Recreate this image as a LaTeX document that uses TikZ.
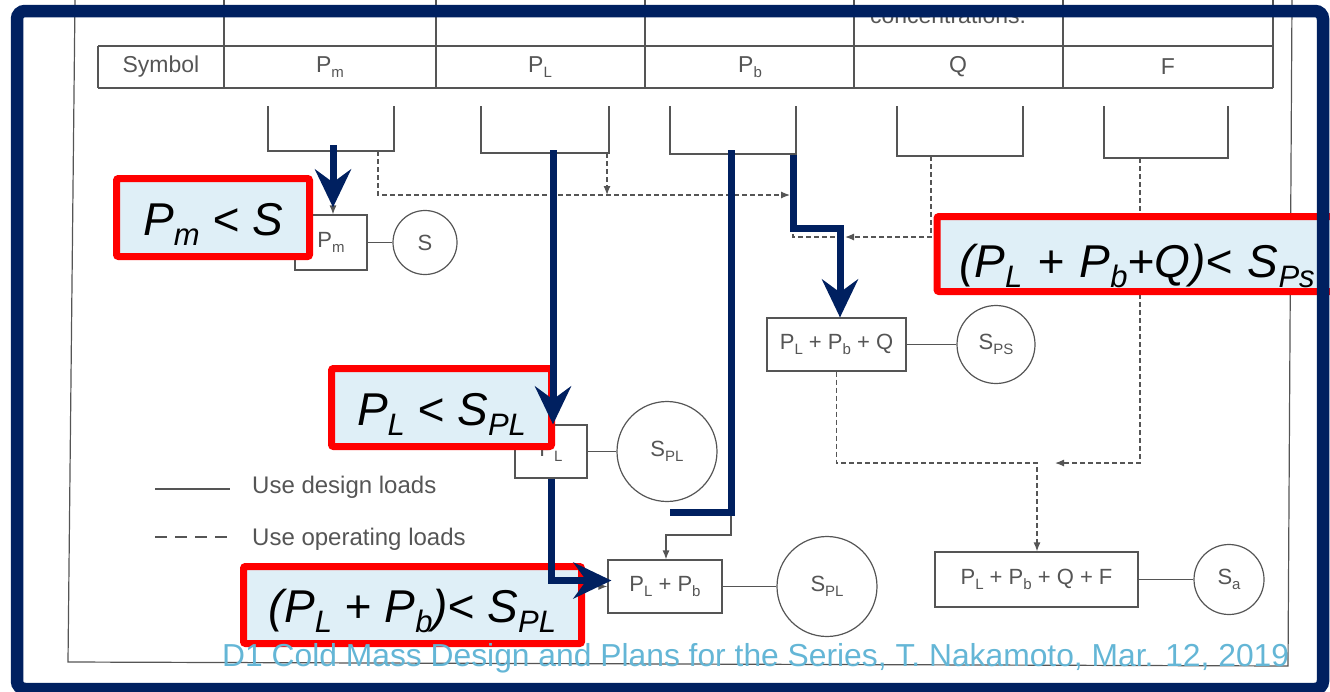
\documentclass[tikz,border=0pt]{standalone}
\usepackage{fontspec}
\setmainfont{Liberation Sans}
\usepackage{tikz}
\usetikzlibrary{arrows.meta,positioning}
\definecolor{framenavy}{HTML}{002060}
\definecolor{alertred}{HTML}{FF0000}
\definecolor{paleblue}{HTML}{DFEFF7}
\definecolor{scangray}{HTML}{555555}
\definecolor{footblue}{HTML}{64B6D6}
\newcommand{\ssub}[1]{\raisebox{-0.2em}{\fontsize{15}{15}\selectfont #1}}
\newcommand{\bsub}[1]{\raisebox{-0.22em}{\fontsize{31}{31}\selectfont #1}}

\begin{document}
\begin{tikzpicture}[x=1pt,y=-1pt,
    scanline/.style={scangray,line width=1.2pt},
    scandash/.style={scangray,line width=1.2pt,dash pattern=on 5pt off 3pt},
    scantip/.style={-{Latex[length=9pt,width=7pt]}},
    scantext/.style={scangray,font=\fontsize{23}{27}\selectfont,inner sep=0pt},
    loadbox/.style={draw,scangray,line width=1.2pt,font=\fontsize{22}{26}\selectfont,inner sep=0pt},
    limitcirc/.style={circle,draw,scangray,line width=1.2pt,font=\fontsize{22}{26}\selectfont,inner sep=0pt},
    checkbox/.style={draw=alertred,fill=paleblue,text=black,line width=7pt,rounded corners=2pt,inner sep=0pt,
      text height=35pt,text depth=0pt,font=\fontsize{46}{50}\selectfont\itshape},
    navyarrow/.style={framenavy,line width=7pt,-{Stealth[length=38pt,width=36pt,inset=13pt]}},
    navyline/.style={framenavy,line width=7pt}]
  \useasboundingbox (0,0) rectangle (1330,691);
  \clip (0,0) rectangle (1330,691);

  % scanned table and page edges
  \draw[scanline] (98,46) -- (1273,46) (98,88) -- (1273,88) (98,46) -- (98,88);
  \foreach \cx in {224,436,645,854,1063,1273}
    \draw[scanline] (\cx,0) -- (\cx,88);
  \draw[scanline] (75,0) -- (68,662) -- (1288,666) -- (1292,0);
  \node[scantext,anchor=base] (concnote) at (948,23) {concentrations.};
  \node[scantext] (symhead) at (161,67) {Symbol};
  \node[scantext] (sympm) at (330,67) {P\ssub{m}};
  \node[scantext] (sympl) at (540,67) {P\ssub{L}};
  \node[scantext] (sympb) at (750,67) {P\ssub{b}};
  \node[scantext] (symq) at (958,67) {Q};
  \node[scantext] (symf) at (1168,67) {F};

  \foreach \l/\r/\b in {268/394/151,481/609/153,670/796/154,897/1023/156,1104/1228/158}
    \draw[scanline] (\l,106) |- (\r,\b) -- (\r,106);

  \coordinate (pmtap) at (333,151);
  \coordinate (pmdash) at (378,151);
  \coordinate (pltap) at (553,153);
  \coordinate (pldash) at (607,153);
  \coordinate (pbtap) at (731,154);
  \coordinate (pbdash) at (793,154);
  \coordinate (qdash) at (931,156);
  \coordinate (fdash) at (1140,158);
  \coordinate (opjoin) at (793,195);
  \coordinate (qjoin) at (840,237);
  \coordinate (fjoin) at (1037,463);
  \coordinate (pbkink) at (666,535);

  % load combinations and allowables
  \node[loadbox,minimum width=72,minimum height=55] (pmbox) at (331,242.5) {P\ssub{m}};
  \node[limitcirc,minimum size=64] (scirc) at (425,242.5) {S};
  \node[loadbox,minimum width=72,minimum height=53] (plbox) at (551,451.5) {P\ssub{L}};
  \node[limitcirc,minimum size=100] (splcirc) at (667,451.5) {S\ssub{PL}};
  \node[loadbox,minimum width=114,minimum height=53] (plpbbox) at (665,586.5) {P\ssub{L} + P\ssub{b}};
  \node[limitcirc,minimum size=100] (splcirctwo) at (827,586.5) {S\ssub{PL}};
  \node[loadbox,minimum width=139,minimum height=53] (plpbqbox) at (836.5,344.5) {P\ssub{L} + P\ssub{b} + Q};
  \node[limitcirc,minimum size=78] (spscirc) at (996,344.5) {S\ssub{PS}};
  \node[loadbox,minimum width=203,minimum height=55] (allbox) at (1036.5,579.5) {P\ssub{L} + P\ssub{b} + Q + F};
  \node[limitcirc,minimum size=70] (sacirc) at (1229,579.5) {S\ssub{a}};

  \draw[scanline] (pmbox) -- (scirc);
  \draw[scanline] (plbox) -- (splcirc);
  \draw[scanline] (plpbbox) -- (splcirctwo);
  \draw[scanline] (plpbqbox) -- (spscirc);
  \draw[scanline] (allbox) -- (sacirc);

  \draw[scanline,scantip] (pmtap) -- (pmtap |- pmbox.north);
  \draw[scanline,scantip] (pltap) -- (pltap |- plbox.north);
  \draw[scanline,scantip] (plbox.south) |- (plpbbox.west);
  \draw[scanline,scantip] (pbtap) |- (pbkink) -- (pbkink |- plpbbox.north);
  \draw[scandash,scantip,shorten >=3pt] (pmdash) |- (opjoin);
  \draw[scandash,scantip] (pldash) -- (pldash |- opjoin);
  \draw[scandash,scantip] (pbdash) |- (qjoin) -- (qjoin |- plpbqbox.north);
  \draw[scandash,scantip,shorten >=5pt] (qdash) |- (qjoin);
  \draw[scandash,scantip,shorten >=18pt] (fdash) |- (fjoin);
  \draw[scandash,scantip] (plpbqbox.south) |- (fjoin) -- (fjoin |- allbox.north);

  % legend
  \draw[scanline] (155,489) -- (230,489);
  \draw[scangray,line width=1.2pt,dash pattern=on 12pt off 8pt] (155,537) -- (230,537);
  \node[scantext,anchor=west,font=\fontsize{24}{28}\selectfont] (designlbl) at (252,487) {Use design loads};
  \node[scantext,anchor=west,font=\fontsize{24}{28}\selectfont] (operlbl) at (252,539) {Use operating loads};

  % highlighted checks
  \node[checkbox,minimum width=193,minimum height=78] (pmcheck) at (213,217.5) {P\bsub{m} < S};
  \node[checkbox,minimum width=220,minimum height=78] (plcheck) at (441.5,407.5) {P\bsub{L} < S\bsub{PL}};
  \node[checkbox,minimum width=338,minimum height=77] (plpbcheck) at (412.5,605) {(P\bsub{L} + P\bsub{b})< S\bsub{PL}};
  \node[checkbox,anchor=west,minimum height=75,text height=46pt,text width=408,align=left,inner xsep=22pt]
    (plpbqcheck) at (933.5,254) {(P\bsub{L} + P\bsub{b}+Q)< S\bsub{Ps}};

  \coordinate (pmnavy) at (333,145);
  \coordinate (plnavy) at (553,150);
  \coordinate (pbnavy) at (731,150);
  \coordinate (pbnavyend) at (670,512);
  \coordinate (pbrnavy) at (793,155);
  \coordinate (navybend) at (840,228);
  \draw[navyarrow,shorten >=7pt] (pmnavy) -- (pmnavy |- pmbox.north);
  \draw[navyarrow] (plnavy) -- (plnavy |- plbox.north);
  \draw[navyarrow] (plbox.south) |- ([shift={(4,-6)}]plpbbox.west);
  \draw[navyline] (pbnavy) |- (pbnavyend);
  \draw[navyarrow] (pbrnavy) |- (navybend) -- (navybend |- plpbqbox.north);

  \node[font=\fontsize{31.8}{35}\selectfont,text=footblue,anchor=base west,inner sep=0pt] (footer) at (222,666)
    {D1 Cold Mass Design and Plans for the Series, T. Nakamoto, Mar. 12, 2019};

  \draw[framenavy,line width=12.5pt,rounded corners=8pt] (17,11) rectangle (1323,689);
\end{tikzpicture}
\end{document}
